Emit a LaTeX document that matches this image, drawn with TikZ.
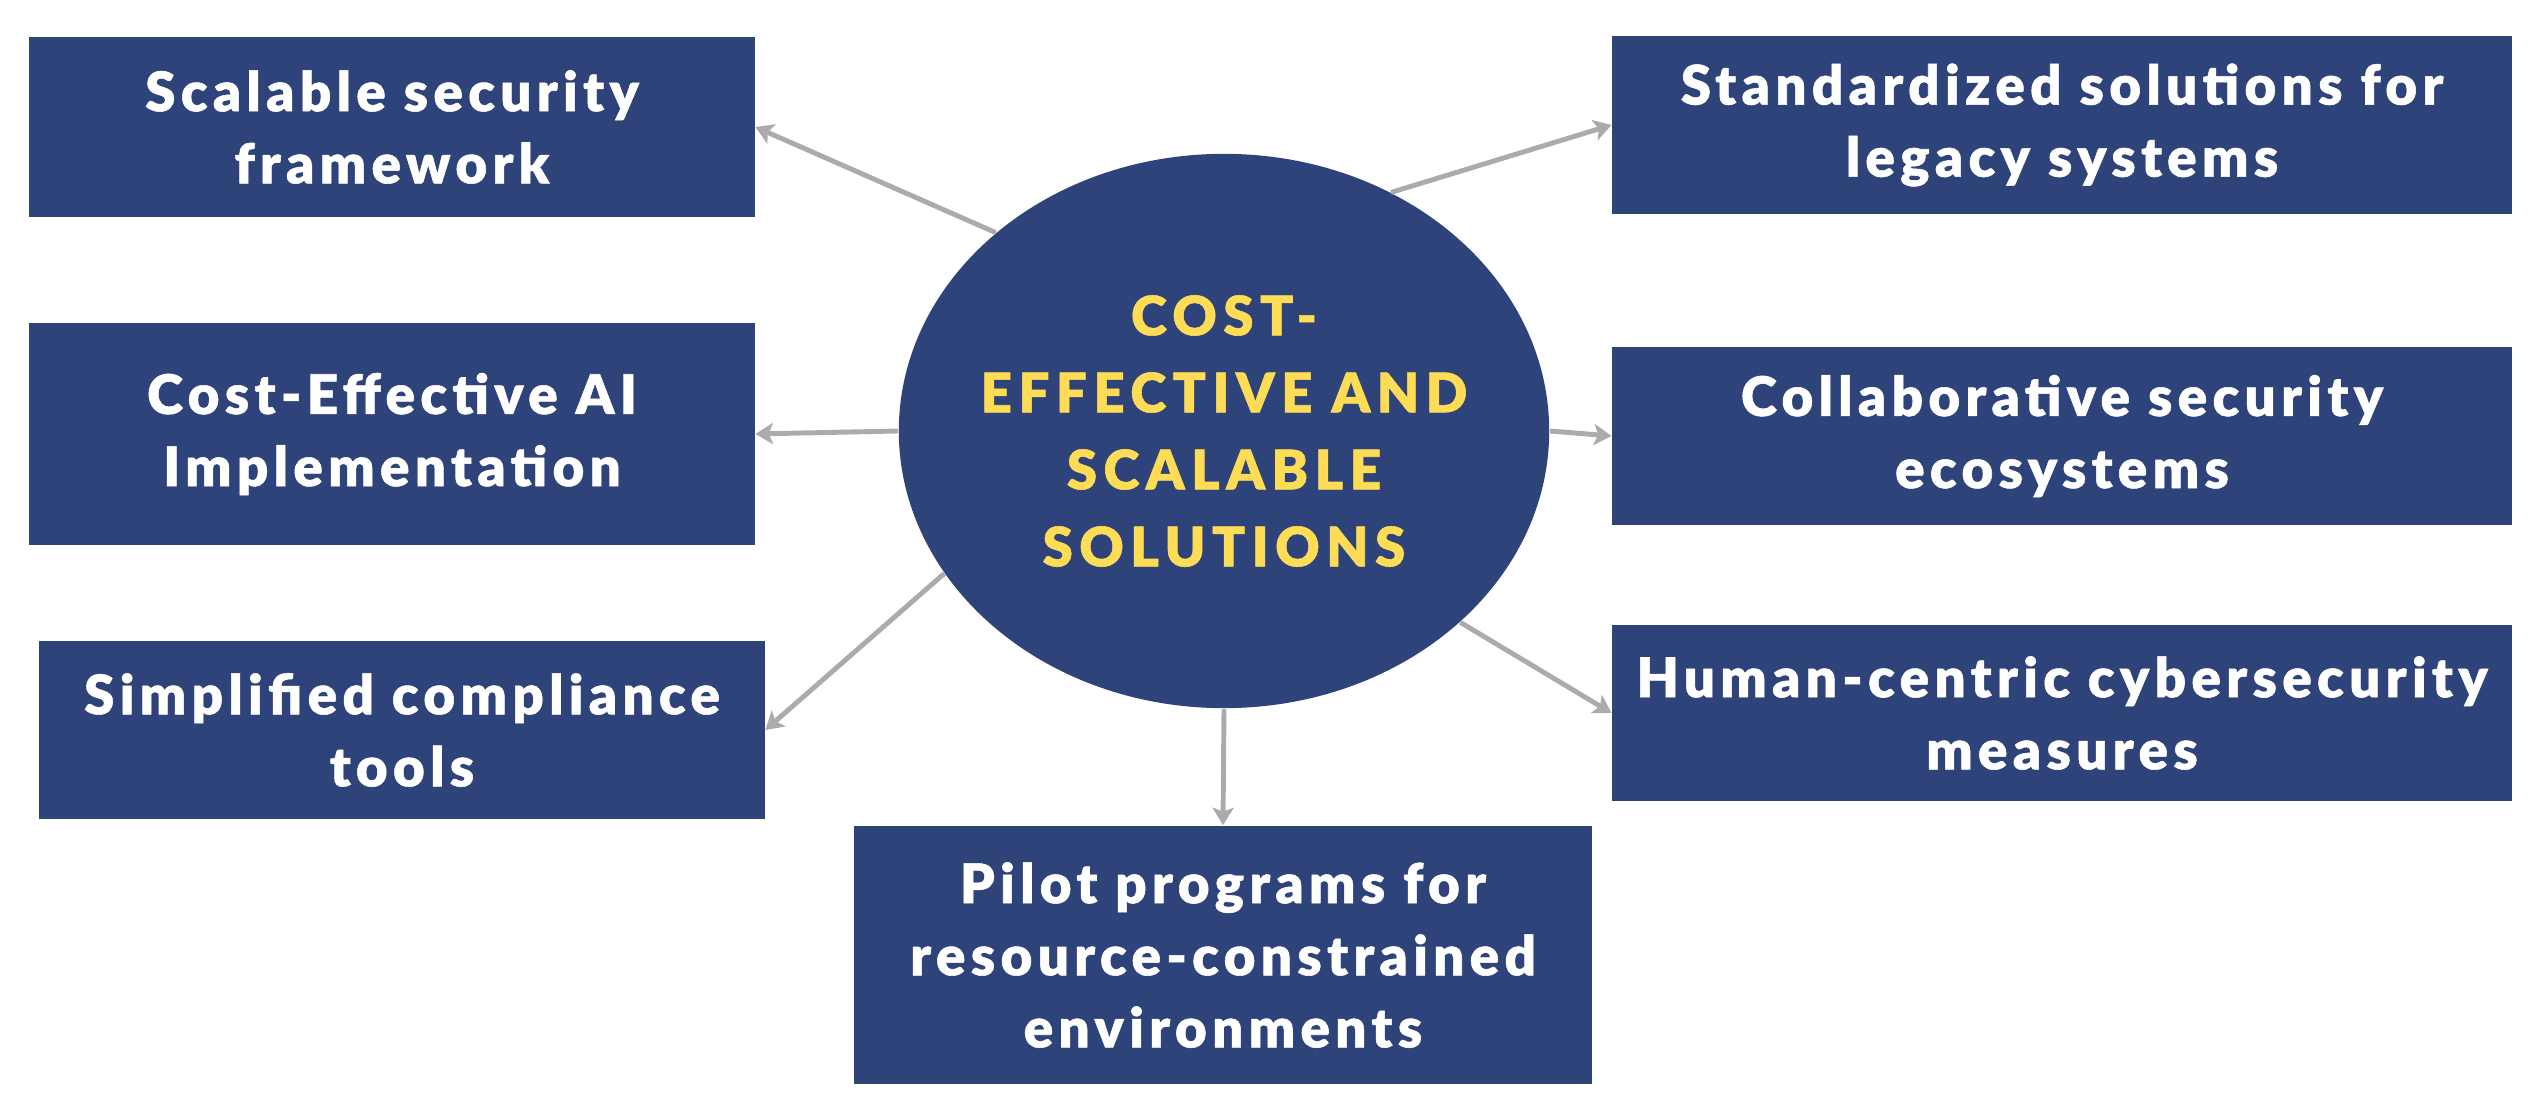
\documentclass[tikz,border=0pt]{standalone}
\usepackage{fontspec}
\setmainfont{Lato}[UprightFont=* Black, LetterSpace=10, FakeBold=1]
\usetikzlibrary{shapes.geometric,arrows.meta}
\definecolor{navy}{HTML}{2E4379}
\definecolor{gold}{HTML}{FFDC55}
\definecolor{linkgray}{HTML}{ABABAB}

\begin{document}
\begin{tikzpicture}[x=0.01cm,y=-0.01cm,
  box/.style={rectangle,fill=navy,text=white,align=center,inner sep=0pt,
    font=\fontsize{15.5}{20.5}\selectfont},
  hub/.style={ellipse,fill=navy,inner sep=0pt,minimum width=6.5cm,minimum height=5.54cm},
  hubtext/.style={text=gold,align=center,inner sep=0pt,
    font=\fontsize{15.5}{21.9}\selectfont\addfontfeatures{LetterSpace=12}},
  link/.style={draw=linkgray,line width=1.4pt,-{Stealth[length=5pt,width=6pt,inset=1.2pt]}}]
  \useasboundingbox (0,0) rectangle (2544,1113);

  % centre
  \node[hub,label={[hubtext]center:COST-\\EFFECTIVE AND\\SCALABLE\\SOLUTIONS}] (hub) at (1224,431) {};

  % left column
  \node[box,minimum width=7.25cm,minimum height=1.8cm] (frame) at (392,127) {Scalable security\\framework};
  \node[box,minimum width=7.25cm,minimum height=2.22cm] (costai) at (392,434) {Cost-Effective AI\\Implementation};
  \node[box,minimum width=7.25cm,minimum height=1.77cm] (compl) at (402,730) {Simplified compliance\\tools};

  % bottom
  \node[box,minimum width=7.38cm,minimum height=2.58cm] (pilot) at (1223,955) {Pilot programs for\\resource-constrained\\environments};

  % right column
  \node[box,minimum width=8.99cm,minimum height=1.77cm] (legacy) at (2062,125) {Standardized solutions for\\legacy systems};
  \node[box,minimum width=8.99cm,minimum height=1.77cm] (collab) at (2062,436) {Collaborative security\\ecosystems};
  \node[box,minimum width=8.99cm,minimum height=1.76cm] (human) at (2062,713) {Human-centric cybersecurity\\measures};

  \draw[link] (hub.139) -- (frame.east);
  \draw[link] (hub.west) -- (costai.east);
  \draw[link] (hub.207) -- (compl.east);
  \draw[link] (hub.south) -- (pilot.north);
  \draw[link] (hub.55) -- (legacy.west);
  \draw[link] (hub.east) -- (collab.west);
  \draw[link] (hub.321) -- (human.west);
\end{tikzpicture}
\end{document}
